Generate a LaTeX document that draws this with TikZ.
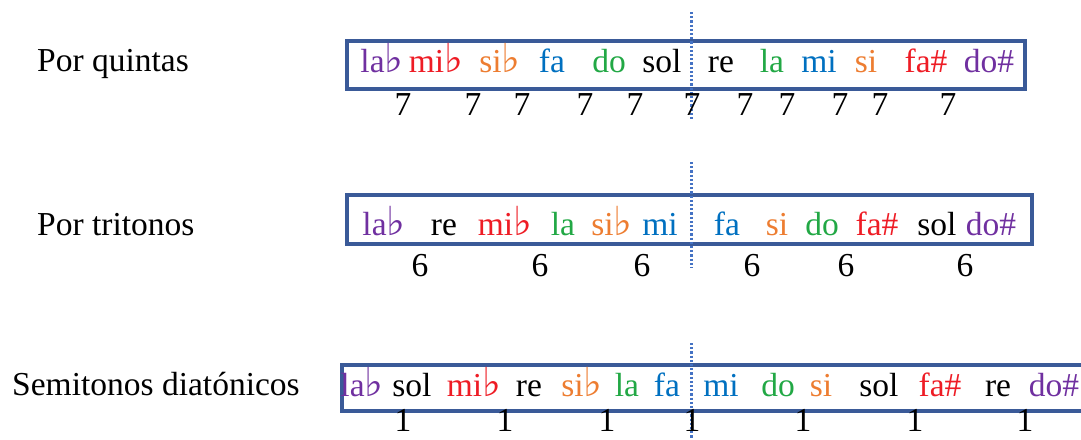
\documentclass[tikz,border=0pt]{standalone}
\usepackage{fontspec}
\setmainfont{Liberation Serif}
\newfontfamily\flatfont{DejaVu Serif}
\newcommand{\fl}{{\flatfont\fontsize{40}{44}\selectfont ♭}}
\definecolor{npurple}{HTML}{7030A0}
\definecolor{nred}{HTML}{EE1C25}
\definecolor{norange}{HTML}{ED7D31}
\definecolor{nblue}{HTML}{0070C0}
\definecolor{ngreen}{HTML}{22A845}
\definecolor{frame}{HTML}{3A5A98}
\definecolor{axis}{HTML}{4472C4}
\tikzset{
  every node/.style={inner sep=0pt, anchor=base, font=\fontsize{33.5}{40}\selectfont},
  rowlabel/.style={anchor=base west},
  num/.style={text=black},
  rowbox/.style={draw=frame, line width=3.2pt},
  axisline/.style={draw=axis, line width=3pt, dash pattern=on 2.2pt off 2pt},
  P/.style={text=npurple}, R/.style={text=nred}, O/.style={text=norange},
  B/.style={text=nblue}, G/.style={text=ngreen}, K/.style={text=black}
}
\begin{document}
\begin{tikzpicture}[x=1pt, y=-1pt]
\useasboundingbox (0,0) rectangle (1081,439);

% row labels
\node[rowlabel] (l1) at (37,71) {Por quintas};
\node[rowlabel] (l2) at (37,235) {Por tritonos};
\node[rowlabel] (l3) at (12,395) {Semitonos diatónicos};

% frames
\draw[rowbox] (347,41) rectangle (1025,89);
\draw[rowbox] (347,195) rectangle (1032,244);
\draw[rowbox] (342,365) rectangle (1095,411);

% dotted axis
\coordinate (a1) at (691,12);  \coordinate (b1) at (691,120);
\coordinate (a2) at (691,162); \coordinate (b2) at (691,268);
\coordinate (a3) at (691,343); \coordinate (b3) at (691,439);
\draw[axisline] (a1) -- (b1);
\draw[axisline] (a2) -- (b2);
\draw[axisline] (a3) -- (b3);

% row 1: circle of fifths
\node[P] (q1) at (382,72) {la\fl};
\node[R] (q2) at (436,72) {mi\fl};
\node[O] (q3) at (500,72) {si\fl};
\node[B] (q4) at (552,72) {fa};
\node[G] (q5) at (609,72) {do};
\node[K] (q6) at (662,72) {sol};
\node[K] (q7) at (721,72) {re};
\node[G] (q8) at (772,72) {la};
\node[B] (q9) at (819,72) {mi};
\node[O] (q10) at (866,72) {si};
\node[R] (q11) at (926,72) {fa\#};
\node[P] (q12) at (989,72) {do\#};
\foreach \x [count=\i] in {403,473,522,585,635,692,745,787,840,880,948}
  \node[num] (qn\i) at (\x,115) {7};

% row 2: tritones
\node[P] (t1) at (384,235) {la\fl};
\node[K] (t2) at (444,235) {re};
\node[R] (t3) at (505,235) {mi\fl};
\node[G] (t4) at (563,235) {la};
\node[O] (t5) at (612,235) {si\fl};
\node[B] (t6) at (660,235) {mi};
\node[B] (t7) at (727,235) {fa};
\node[O] (t8) at (777,235) {si};
\node[G] (t9) at (822,235) {do};
\node[R] (t10) at (877,235) {fa\#};
\node[K] (t11) at (937,235) {sol};
\node[P] (t12) at (991,235) {do\#};
\foreach \x [count=\i] in {420,540,642,752,846,965}
  \node[num] (tn\i) at (\x,276) {6};

% row 3: diatonic semitones
\node[P] (s1) at (362,396) {la\fl};
\node[K] (s2) at (412,396) {sol};
\node[R] (s3) at (474,396) {mi\fl};
\node[K] (s4) at (529,396) {re};
\node[O] (s5) at (582,396) {si\fl};
\node[G] (s6) at (627,396) {la};
\node[B] (s7) at (667,396) {fa};
\node[B] (s8) at (721,396) {mi};
\node[G] (s9) at (778,396) {do};
\node[O] (s10) at (821,396) {si};
\node[K] (s11) at (879,396) {sol};
\node[R] (s12) at (940,396) {fa\#};
\node[K] (s13) at (998,396) {re};
\node[P] (s14) at (1054,396) {do\#};
\foreach \x [count=\i] in {403,505,607,692,803,915,1025}
  \node[num] (sn\i) at (\x,431) {1};
\end{tikzpicture}
\end{document}
